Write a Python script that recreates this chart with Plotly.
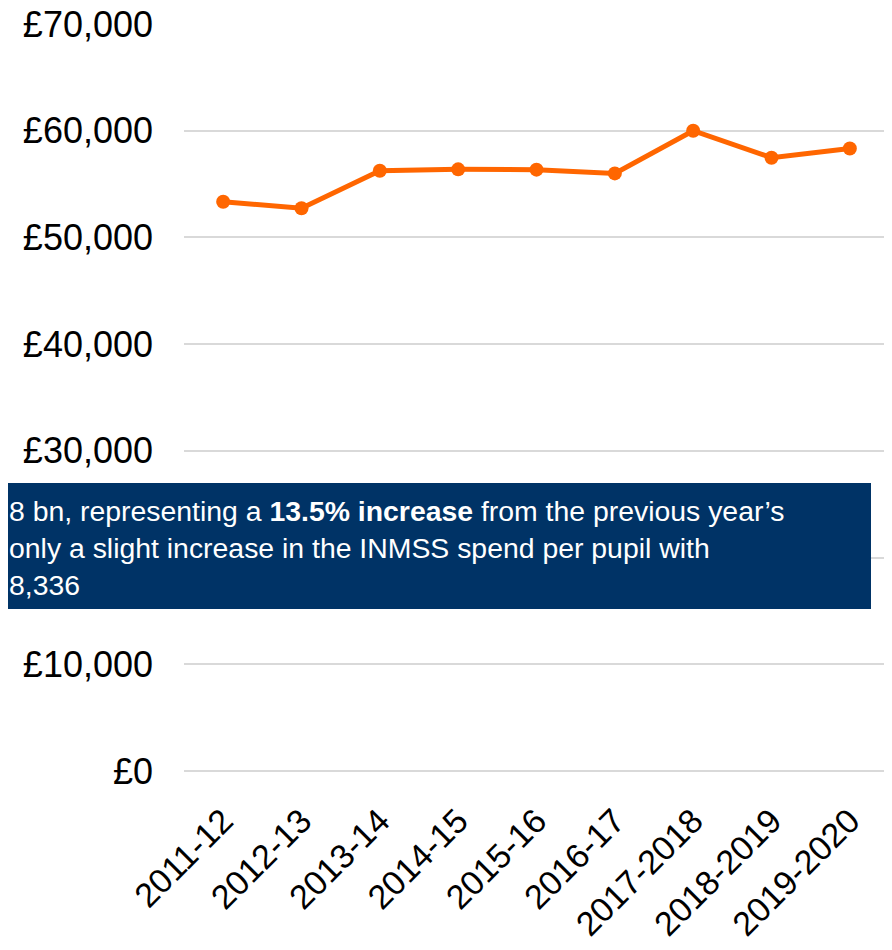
import plotly.graph_objects as go

years = ["2011-12", "2012-13", "2013-14", "2014-15", "2015-16",
         "2016-17", "2017-2018", "2018-2019", "2019-2020"]
spend_per_pupil = [53350, 52730, 56250, 56380, 56350, 56000, 60000, 57470, 58336]
y_ticks = [0, 10000, 20000, 30000, 40000, 50000, 60000, 70000]
y_tick_labels = ["£0", "£10,000", "£20,000", "£30,000", "£40,000",
                 "£50,000", "£60,000", "£70,000"]

# the page body adds an 8px offset, so the figure is 8px smaller
OFF = 8
W, H = 892 - OFF, 950 - OFF
ML, MR, MT, MB = 176, 3, 16, 179
PW, PH = W - ML - MR, H - MT - MB


def px_x(p):
    return (p - OFF - ML) / PW


def px_y(p):
    return (H - MB - (p - OFF)) / PH


fig = go.Figure()
fig.add_trace(go.Scatter(
    x=years, y=spend_per_pupil, mode="lines+markers",
    line=dict(color="#FF6600", width=5),
    marker=dict(color="#FF6600", size=14),
    cliponaxis=False, showlegend=False,
))

fig.update_layout(
    width=W, height=H,
    margin=dict(l=ML, r=MR, t=MT, b=MB, autoexpand=False),
    paper_bgcolor="white", plot_bgcolor="white",
    font=dict(family="Arial, Liberation Sans, sans-serif", color="black"),
    xaxis=dict(
        type="category", range=[-0.5, 8.5], automargin=False,
        showgrid=False, showline=False, zeroline=False, ticks="",
        tickangle=-45, tickfont=dict(size=34), ticklabelstandoff=22,
        ticklabeloverflow="allow",
    ),
    yaxis=dict(
        range=[0, 70000], tickvals=y_ticks, ticktext=y_tick_labels,
        automargin=False,
        showgrid=True, gridcolor="#d9d9d9", gridwidth=2,
        zeroline=True, zerolinecolor="#d9d9d9", zerolinewidth=2,
        showline=False, ticks="", tickfont=dict(size=36),
        ticklabelstandoff=30, ticklabeloverflow="allow",
    ),
)

fig.add_shape(
    type="rect", xref="paper", yref="paper",
    x0=px_x(0), x1=px_x(871), y0=px_y(609), y1=px_y(483),
    fillcolor="#003366", line=dict(width=0), layer="above",
)

fig.add_annotation(
    xref="paper", yref="paper", x=px_x(8), y=px_y(494),
    xanchor="left", yanchor="top", align="left", showarrow=False,
    borderpad=0,
    text=("8 bn, representing a <b>13.5% increase</b> from the previous year’s<br>"
          "only a slight increase in the INMSS spend per pupil with<br>"
          "8,336"),
    font=dict(size=28.4, color="white", family="Arial, Liberation Sans, sans-serif"),
)

fig.write_html("out.html")
